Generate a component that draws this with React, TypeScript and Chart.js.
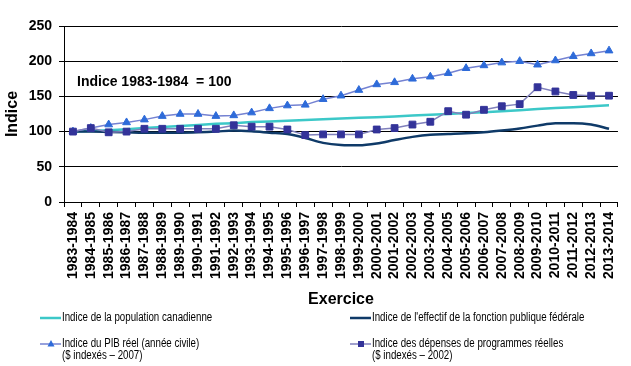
import React, { useEffect, useRef } from "react";
import { Chart, registerables } from "chart.js";

Chart.register(...registerables);

const categories = [
  "1983-1984", "1984-1985", "1985-1986", "1986-1987", "1987-1988", "1988-1989",
  "1989-1990", "1990-1991", "1991-1992", "1992-1993", "1993-1994", "1994-1995",
  "1995-1996", "1996-1997", "1997-1998", "1998-1999", "1999-2000", "2000-2001",
  "2001-2002", "2002-2003", "2003-2004", "2004-2005", "2005-2006", "2006-2007",
  "2007-2008", "2008-2009", "2009-2010", "2010-2011", "2011-2012", "2012-2013",
  "2013-2014",
];

const populationIndex = [
  100, 101, 102, 103.5, 105, 106.5, 108, 109.5, 111, 112, 113.5, 114.5,
  115.5, 116.5, 117.5, 118.5, 119.5, 120.5, 121.5, 123, 124, 125, 126.5,
  127.5, 129, 130.5, 132, 133.5, 134.5, 136, 137.5,
];

const workforceIndex = [
  100, 100, 99.5, 99, 98.5, 98.5, 98.5, 99, 100, 101.5, 100.5, 98.5,
  96.5, 91, 84, 81, 80.5, 83, 88, 92.5, 95.5, 96.5, 97.5, 99, 101.5,
  104.5, 108.5, 112, 112, 110, 104,
];

const gdpIndex = [
  100, 105, 110, 113, 117, 122, 125, 125, 122, 123, 127, 133, 137, 138,
  146, 151, 159, 167, 170, 175, 178, 183, 190, 194, 198, 200, 195, 201,
  207, 211, 215,
];

const spendingIndex = [
  100, 105, 99, 100, 104, 104, 104, 104, 104, 109, 107, 107, 103, 95,
  96, 96, 96, 103, 105, 110, 114, 129, 124, 131, 136, 139, 163, 157,
  152, 151, 151,
];

const yMin = 0;
const yMax = 250;
const yStep = 50;

const labelPopulation = ["Indice de la population canadienne"];
const labelWorkforce = ["Indice de l'effectif de la fonction publique fédérale"];
const labelGdp = ["Indice du PIB réel (année civile)", "($ indexés – 2007)"];
const labelSpending = ["Indice des dépenses de programmes réelles", "($ indexés – 2002)"];
const annotationText = "Indice 1983-1984  = 100";
const xTitle = "Exercice";
const yTitle = "Indice";

const FONT = '"Liberation Sans", Arial, sans-serif';

const C_POP = "#3cc8c8";
const C_WORK = "#0f3a68";
const C_GDP_LINE = "#7482d2";
const C_GDP_PT = "#2e6bd9";
const C_SPEND_LINE = "#8080bc";
const C_SPEND_PT = "#333399";

type LegendItem = {
  lines: string[];
  lineColor: string;
  lineWidth: number;
  marker: null | "triangle" | "rect";
  markerColor: string;
  x: number;
  y: number;
};

const legendItems: LegendItem[] = [
  { lines: labelPopulation, lineColor: C_POP, lineWidth: 2.5, marker: null, markerColor: C_POP, x: 40, y: 318 },
  { lines: labelWorkforce, lineColor: C_WORK, lineWidth: 2.5, marker: null, markerColor: C_WORK, x: 350, y: 318 },
  { lines: labelGdp, lineColor: C_GDP_LINE, lineWidth: 1.5, marker: "triangle", markerColor: C_GDP_PT, x: 40, y: 344 },
  { lines: labelSpending, lineColor: C_SPEND_LINE, lineWidth: 1.5, marker: "rect", markerColor: C_SPEND_PT, x: 350, y: 344 },
];

const extrasPlugin = {
  id: "extras",
  afterDraw(chart: any) {
    const ctx = chart.ctx as CanvasRenderingContext2D;
    const area = chart.chartArea;
    ctx.save();
    // annotation
    ctx.fillStyle = "#000";
    ctx.font = `bold 14px ${FONT}`;
    ctx.textAlign = "left";
    ctx.textBaseline = "middle";
    ctx.fillText(annotationText, area.left + 13, area.top + 56);

    // legend
    for (const it of legendItems) {
      ctx.strokeStyle = it.lineColor;
      ctx.lineWidth = it.lineWidth;
      ctx.beginPath();
      ctx.moveTo(it.x, it.y);
      ctx.lineTo(it.x + 21, it.y);
      ctx.stroke();
      const cx = it.x + 11;
      if (it.marker === "triangle") {
        ctx.fillStyle = it.markerColor;
        ctx.beginPath();
        ctx.moveTo(cx, it.y - 4);
        ctx.lineTo(cx + 3.5, it.y + 2.5);
        ctx.lineTo(cx - 3.5, it.y + 2.5);
        ctx.closePath();
        ctx.fill();
      } else if (it.marker === "rect") {
        ctx.fillStyle = it.markerColor;
        ctx.fillRect(cx - 3, it.y - 3, 6, 6);
      }
      ctx.fillStyle = "#000";
      ctx.font = `12px ${FONT}`;
      ctx.textAlign = "left";
      ctx.textBaseline = "middle";
      it.lines.forEach((t, i) => {
        ctx.save();
        ctx.translate(it.x + 22, it.y + i * 11.5);
        ctx.scale(0.81, 1);
        ctx.fillText(t, 0, 0);
        ctx.restore();
      });
    }
    ctx.restore();
  },
};

export default function App() {
  const ref = useRef<HTMLCanvasElement | null>(null);

  useEffect(() => {
    if (!ref.current) return;
    const chart = new Chart(ref.current, {
      type: "line",
      data: {
        labels: categories,
        datasets: [
          {
            label: labelPopulation.join(" "),
            data: populationIndex,
            borderColor: C_POP,
            backgroundColor: C_POP,
            borderWidth: 2.5,
            pointRadius: 0,
            tension: 0,
            order: 3,
          },
          {
            label: labelWorkforce.join(" "),
            data: workforceIndex,
            borderColor: C_WORK,
            backgroundColor: C_WORK,
            borderWidth: 2.5,
            pointRadius: 0,
            tension: 0.4,
            cubicInterpolationMode: "monotone",
            order: 2,
          },
          {
            label: labelGdp.join(" "),
            data: gdpIndex,
            borderColor: C_GDP_LINE,
            backgroundColor: C_GDP_PT,
            borderWidth: 1.5,
            pointStyle: "triangle",
            pointRadius: 4.5,
            pointBackgroundColor: C_GDP_PT,
            pointBorderColor: C_GDP_PT,
            pointBorderWidth: 1,
            tension: 0,
            order: 1,
          },
          {
            label: labelSpending.join(" "),
            data: spendingIndex,
            borderColor: C_SPEND_LINE,
            backgroundColor: C_SPEND_PT,
            borderWidth: 1.5,
            pointStyle: "rect",
            pointRadius: 4.8,
            pointBackgroundColor: C_SPEND_PT,
            pointBorderColor: C_SPEND_PT,
            pointBorderWidth: 1,
            tension: 0,
            order: 0,
          },
        ],
      },
      options: {
        animation: false,
        responsive: false,
        events: [],
        layout: { padding: { left: 0, top: 26, right: 11, bottom: 57 } },
        plugins: {
          legend: { display: false },
          tooltip: { enabled: false },
        },
        scales: {
          x: {
            type: "category",
            offset: true,
            grid: {
              display: true,
              drawOnChartArea: false,
              drawTicks: true,
              tickLength: 5,
              color: "#000",
              lineWidth: 1,
              offset: true,
            },
            border: { display: true, color: "#000", width: 1 },
            ticks: {
              autoSkip: false,
              maxRotation: 90,
              minRotation: 90,
              padding: 5,
              color: "#000",
              font: { family: FONT, size: 14, weight: "bold" },
            },
            title: {
              display: true,
              text: xTitle,
              color: "#000",
              font: { family: FONT, size: 16, weight: "bold" },
              padding: 0,
            },
            afterFit: (s: any) => {
              s.height = 107;
            },
          },
          y: {
            min: yMin,
            max: yMax,
            ticks: {
              stepSize: yStep,
              padding: 7,
              color: "#000",
              font: { family: FONT, size: 14, weight: "bold" },
            },
            grid: { color: "#000", lineWidth: 1, tickLength: 5 },
            border: { display: true, color: "#000", width: 1 },
            title: {
              display: true,
              text: yTitle,
              color: "#000",
              font: { family: FONT, size: 16, weight: "bold" },
              padding: { top: 3, bottom: 0 },
            },
            afterFit: (s: any) => {
              s.width = 64;
            },
          },
        },
      },
      plugins: [extrasPlugin],
    } as any);
    return () => chart.destroy();
  }, []);

  return (
    <div style={{ position: "fixed", left: 0, top: 0, width: 631, height: 366, background: "#fff" }}>
      <canvas ref={ref} width={631} height={366} style={{ width: 631, height: 366, display: "block" }} />
    </div>
  );
}
